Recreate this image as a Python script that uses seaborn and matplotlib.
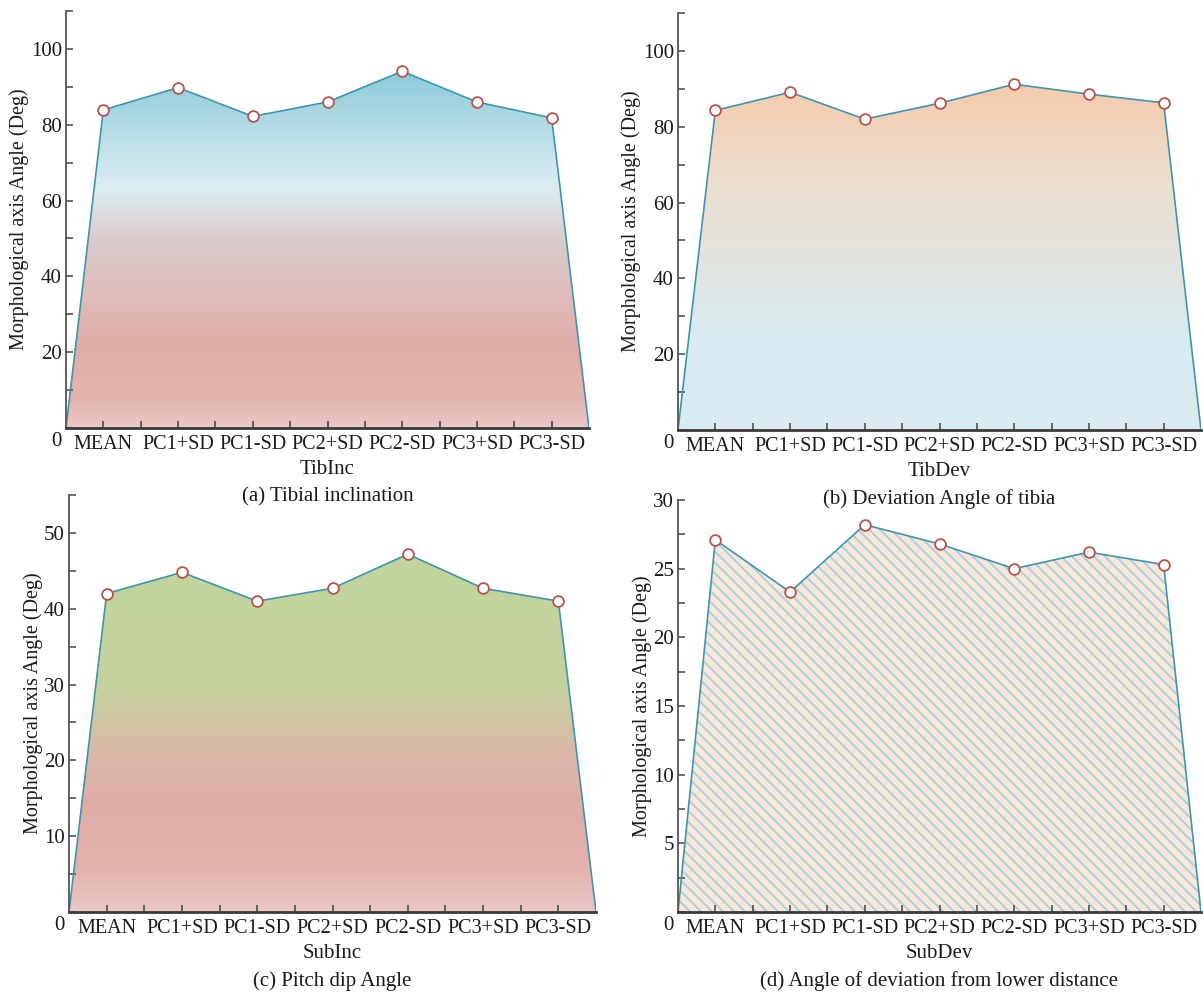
import numpy as np
import matplotlib
matplotlib.use("Agg")
import matplotlib.pyplot as plt
from matplotlib.colors import LinearSegmentedColormap
from matplotlib.collections import LineCollection
from matplotlib.patches import Polygon
from matplotlib.ticker import MultipleLocator
from matplotlib.transforms import ScaledTranslation
import seaborn as sns

# ---- data ----
categories = ["MEAN", "PC1+SD", "PC1-SD", "PC2+SD", "PC2-SD", "PC3+SD", "PC3-SD"]
tib_inc = [83.9, 89.8, 82.2, 86.0, 94.1, 86.0, 81.8]
tib_dev = [84.3, 89.1, 82.0, 86.2, 91.2, 88.6, 86.3]
sub_inc = [42.0, 44.8, 41.0, 42.7, 47.2, 42.7, 41.0]
sub_dev = [27.1, 23.3, 28.2, 26.8, 25.0, 26.2, 25.3]

x_names = ["TibInc", "TibDev", "SubInc", "SubDev"]
captions = ["(a) Tibial inclination", "(b) Deviation Angle of tibia",
            "(c) Pitch dip Angle", "(d) Angle of deviation from lower distance"]
y_label = "Morphological axis Angle (Deg)"

sns.set_theme(style="ticks")
plt.rcParams["font.family"] = ["Liberation Serif", "DejaVu Serif"]
plt.rcParams["axes.axisbelow"] = False

W, H = 1203, 996
fig = plt.figure(figsize=(W / 100, H / 100), dpi=100)


def px_axes(left, top, right, bottom):
    return fig.add_axes([left / W, 1 - bottom / H, (right - left) / W, (bottom - top) / H])


line_col = "#3f95ad"
mark_edge = "#b9524e"
text_col = "#1a1a1a"

# gradient stops: (value, colour)
grad_a = [(0, "#eac8c4"), (8, "#e3b3ae"), (22, "#e0aca7"), (36, "#ddbebc"),
          (50, "#dbcccd"), (63, "#dcecf1"), (76, "#bde0e8"), (94.1, "#8ccad9")]
grad_b = [(0, "#d9ecf2"), (25, "#d9ebf0"), (45, "#e2e3de"), (65, "#ecdfd1"), (91.2, "#f6cbac")]
grad_c = [(0, "#eac8c4"), (6, "#e2b2ad"), (14, "#e0aca7"), (20, "#dab6a8"),
          (25, "#d1c4a2"), (30, "#c6d19e"), (47.2, "#c0d59c")]

panels = [
    dict(rect=(66, 11, 589, 428), vals=tib_inc, ylim=110, major=20, grad=grad_a),
    dict(rect=(678, 13, 1201, 430), vals=tib_dev, ylim=110, major=20, grad=grad_b),
    dict(rect=(69, 495, 596, 912), vals=sub_inc, ylim=55, major=10, grad=grad_c),
    dict(rect=(678, 500, 1201, 912), vals=sub_dev, ylim=30, major=5, grad=None),
]

for i, p in enumerate(panels):
    ax = px_axes(*p["rect"])
    ax.set_facecolor("none")
    vals = np.asarray(p["vals"], dtype=float)
    pos = np.arange(1, len(vals) + 1, dtype=float)
    lo, hi = pos[0] - 0.5, pos[-1] + 0.5

    # closed outline: anchored on the axis at both ends
    xs = np.concatenate([[lo], pos, [hi]])
    ys = np.concatenate([[0.0], vals, [0.0]])
    verts = np.column_stack([xs, ys])

    if p["grad"] is not None:
        stops = p["grad"]
        top = stops[-1][0]
        cmap = LinearSegmentedColormap.from_list(
            f"g{i}", [(v / top, c) for v, c in stops])
        g = np.linspace(0, 1, 512).reshape(-1, 1)
        img = ax.imshow(g, extent=[lo, hi, 0, top], origin="lower",
                        aspect="auto", cmap=cmap, zorder=1, interpolation="bilinear")
        clip = Polygon(verts, closed=True, facecolor="none", edgecolor="none",
                       transform=ax.transData)
        ax.add_patch(clip)
        img.set_clip_path(clip)
    else:
        poly = Polygon(verts, closed=True, facecolor="#fbe6d7", edgecolor="none", zorder=1)
        ax.add_patch(poly)
        # diagonal hatch drawn in axes space, clipped to the area
        fw = (p["rect"][2] - p["rect"][0])
        fh = (p["rect"][3] - p["rect"][1])
        step = 11.0 / fw
        offs = np.arange(-1.5, 1.5, step)
        segs = [[(c, 1.0), (c + fh / fw, 0.0)] for c in offs]
        lc = LineCollection(segs, colors="#a5d2e2", linewidths=1.4,
                            transform=ax.transAxes, zorder=1.5)
        ax.add_collection(lc)
        lc.set_clip_path(poly)

    sns.lineplot(x=xs, y=ys, ax=ax, color=line_col, linewidth=1.2,
                 sort=False, estimator=None, zorder=3)
    sns.scatterplot(x=pos, y=vals, ax=ax, s=60, marker="o", facecolor="white",
                    edgecolor=mark_edge, linewidth=1.3, zorder=4)

    ax.set_xlim(lo, hi)
    ax.set_ylim(0, p["ylim"])
    ax.set_xticks(pos)
    ax.set_xticklabels(categories)
    ax.set_xticks(pos[:-1] + 0.5, minor=True)
    ax.yaxis.set_major_locator(MultipleLocator(p["major"]))
    ax.yaxis.set_minor_locator(MultipleLocator(p["major"] / 2))

    for s in ("top", "right"):
        ax.spines[s].set_visible(False)
    ax.spines["left"].set_color("#555555")
    ax.spines["left"].set_linewidth(1.3)
    ax.spines["bottom"].set_color("#3a3a3a")
    ax.spines["bottom"].set_linewidth(2.0)
    ax.spines["left"].set_zorder(5)
    ax.spines["bottom"].set_zorder(5)

    ax.tick_params(axis="both", which="both", direction="in", color="#444444",
                   width=1.1, length=5, labelsize=15, labelcolor=text_col)
    ax.tick_params(axis="x", which="major", pad=5, labelsize=14.5)
    ax.tick_params(axis="y", which="major", pad=3)
    ax.tick_params(axis="x", which="minor", bottom=True)

    # the origin label sits just below the corner
    fig.canvas.draw()
    for lab in ax.get_yticklabels():
        if lab.get_text() in ("0", "0.0"):
            lab.set_transform(lab.get_transform() +
                              ScaledTranslation(0, -8 / 72, fig.dpi_scale_trans))

    ax.set_xlabel(x_names[i], fontsize=15, color=text_col, labelpad=4)
    ax.set_ylabel(y_label, fontsize=14.5, color=text_col, labelpad=1)
    ax.annotate(captions[i], xy=(0.5, 0), xycoords="axes fraction",
                xytext=(0, -49.5), textcoords="offset points",
                ha="center", va="center", fontsize=15, color=text_col, zorder=10)
    ax.grid(False)

fig.savefig("out.png", dpi=100, facecolor="white")
